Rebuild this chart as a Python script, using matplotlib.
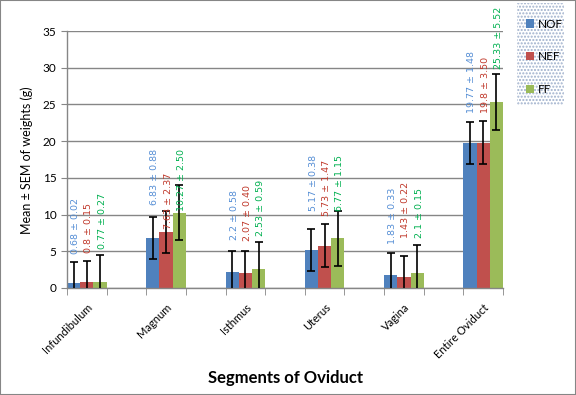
import matplotlib
matplotlib.use('Agg')
import matplotlib.pyplot as plt
import numpy as np
from matplotlib.patches import Rectangle

segments = ['Infundibulum', 'Magnum', 'Isthmus', 'Uterus', 'Vagina', 'Entire Oviduct']
groups = ['NOF', 'NEF', 'FF']

# mean weights (g) and SEM shown in the data labels
nof = [0.68, 6.83, 2.2, 5.17, 1.83, 19.77]
nef = [0.8, 7.63, 2.07, 5.73, 1.43, 19.8]
ff = [0.77, 10.27, 2.53, 6.77, 2.1, 25.33]
nof_sem = [0.02, 0.88, 0.58, 0.38, 0.33, 1.48]
nef_sem = [0.15, 2.37, 0.40, 1.47, 0.22, 3.50]
ff_sem = [0.27, 2.50, 0.59, 1.15, 0.15, 5.52]

# error bars as drawn on the chart
nof_err = [2.89, 2.89, 2.89, 2.89, 2.89, 2.89]
nef_err = [2.92, 2.92, 2.92, 2.92, 2.92, 2.92]
ff_err = [3.76, 3.76, 3.76, 3.76, 3.76, 3.76]

bar_colors = ['#4F81BD', '#C0504D', '#9BBB59']
label_colors = ['#558ED5', '#C0392B', '#00B050']
# pixel gap between bar top and data label
label_gap = [[29, 33, 32, 39, 31, 30],
             [29, 3, 32, 30, 39, 30],
             [33, 2, 33, 27, 35, 33]]

plt.rcParams['font.family'] = ['Lato', 'DejaVu Sans']

fig = plt.figure(figsize=(5.76, 3.95), dpi=100)
ax = fig.add_axes([67 / 576, 1 - 288 / 395, 436 / 576, 257 / 395])

x = np.arange(len(segments)) * 2
w = 1 / 3
series = [(nof, nof_sem, nof_err), (nef, nef_sem, nef_err), (ff, ff_sem, ff_err)]
for i, (vals, sem, err) in enumerate(series):
    xs = x + (i - 1) * w
    ax.bar(xs, vals, width=w, color=bar_colors[i], label=groups[i], zorder=2)
    ax.errorbar(xs, vals, yerr=err, fmt='none', ecolor='black',
                elinewidth=1.2, capsize=3, capthick=1.2, zorder=3)
    for j, v in enumerate(vals):
        ax.annotate(f'{v:g} ± {sem[j]:.2f}', (xs[j], v),
                    xytext=(2, label_gap[i][j]), textcoords='offset pixels',
                    rotation=90, ha='center', va='bottom', fontsize=6.8,
                    color=label_colors[i], family='DejaVu Sans', zorder=4)

ax.set_xlim(-0.5, 10.5)
ax.set_ylim(0, 35)
ax.set_yticks(range(0, 36, 5))
ax.set_xticks(x)
ax.set_xticklabels(segments, rotation=45, ha='right', rotation_mode='anchor',
                   fontsize=8)
ax.set_xticks(np.arange(-0.5, 11, 1), minor=True)
ax.tick_params(axis='x', which='major', length=0, pad=10)
ax.tick_params(axis='x', which='minor', length=5, color='#868686')
ax.tick_params(axis='y', length=4, color='#868686', labelsize=8.5)

ax.yaxis.grid(True, color='#868686', lw=1)
ax.set_axisbelow(True)
for s in ['top', 'right']:
    ax.spines[s].set_visible(False)
for s in ['left', 'bottom']:
    ax.spines[s].set_color('#868686')
    ax.spines[s].set_linewidth(1)

fig.text(27 / 576, 1 - 160 / 395, 'Mean ± SEM of weights (g)', rotation=90,
         ha='center', va='center', fontsize=9)
fig.text(285 / 576, 1 - 378 / 395, 'Segments of Oviduct', ha='center',
         va='center', fontsize=12, fontweight='bold')

# dotted legend background
fig.patches.append(Rectangle((517 / 576, 1 - 105 / 395), 47 / 576, 102 / 395,
                             transform=fig.transFigure, facecolor='white',
                             edgecolor='#9FB0CC', hatch='.....', lw=0))
leg = fig.legend(loc='upper left', bbox_to_anchor=(515 / 576, 1 - 8 / 395),
                 frameon=False, fontsize=8.5, handlelength=0.7,
                 handleheight=0.7, handletextpad=0.3, labelspacing=1.85)

fig.patches.append(Rectangle((0, 0), 1, 1, transform=fig.transFigure,
                             fill=False, edgecolor='#868686', lw=1.5))

fig.savefig('out.png', dpi=100)
